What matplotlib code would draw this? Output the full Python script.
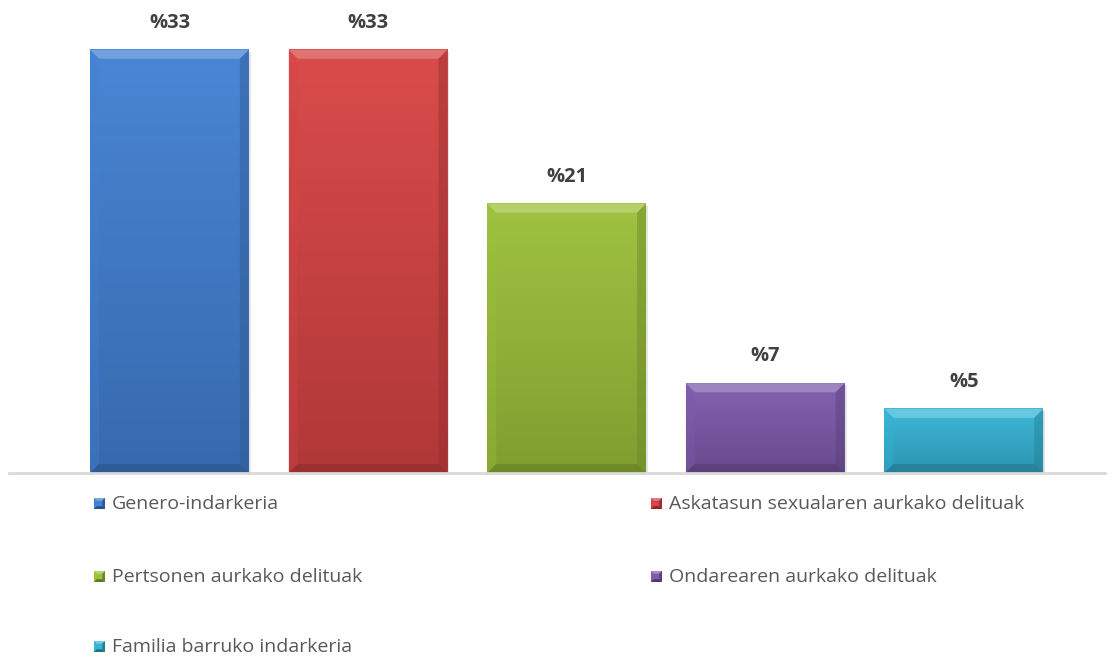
import matplotlib
matplotlib.use("Agg")
import matplotlib.pyplot as plt
import numpy as np
from matplotlib.patches import Polygon, Rectangle
import matplotlib.colors as mcolors

categories = ["Genero-indarkeria", "Askatasun sexualaren aurkako delituak",
              "Pertsonen aurkako delituak", "Ondarearen aurkako delituak",
              "Familia barruko indarkeria"]
values = [33, 33, 21, 7, 5]
labels = ["%33", "%33", "%21", "%7", "%5"]
colors = ["#4281D3", "#D84444", "#9CC03A", "#7F5BAD", "#35B5D6"]

W, H = 1113, 657
fig = plt.figure(figsize=(W / 100, H / 100), dpi=100)
ax = fig.add_axes([9 / W, 184 / H, 1096 / W, 463 / H])
ax.set_xlim(-0.808, 4.711)
ax.set_ylim(0, 36.1)
ax.axis("off")

bw = 0.8
px_x = (4.711 + 0.808) / 1096.0
px_y = 36.1 / 463.0
bx = 9 * px_x
by = 9 * px_y


def shade(c, f):
    r = np.array(mcolors.to_rgb(c))
    if f > 0:
        return tuple(r + (1 - r) * f)
    return tuple(r * (1 + f))


for i, (v, c) in enumerate(zip(values, colors)):
    x0, x1 = i - bw / 2, i + bw / 2
    # shadow
    ax.add_patch(Rectangle((x0 + 2 * px_x, -2 * px_y), bw, v, color="#000000",
                           alpha=0.10, lw=0, zorder=1))
    # gradient body
    grad = np.linspace(0, 1, 100)[:, None]
    top = np.array(shade(c, 0.04))
    bot = np.array(shade(c, -0.18))
    img = top[None, None, :] * (1 - grad[..., None]) + bot[None, None, :] * grad[..., None]
    ax.imshow(img, extent=(x0, x1, 0, v), origin="upper", aspect="auto", zorder=2)
    # bevels
    ax.add_patch(Polygon([(x0, v), (x1, v), (x1 - bx, v - by), (x0 + bx, v - by)],
                         closed=True, color=shade(c, 0.25), lw=0, zorder=3))
    ax.add_patch(Polygon([(x0, v), (x0 + bx, v - by), (x0 + bx, by), (x0, 0)],
                         closed=True, color=shade(c, 0.0), lw=0, zorder=3, alpha=0.35))
    ax.add_patch(Polygon([(x1, v), (x1 - bx, v - by), (x1 - bx, by), (x1, 0)],
                         closed=True, color=shade(c, -0.3), lw=0, zorder=3, alpha=0.45))
    ax.add_patch(Polygon([(x0, 0), (x0 + bx, by), (x1 - bx, by), (x1, 0)],
                         closed=True, color=shade(c, -0.35), lw=0, zorder=3, alpha=0.6))
    ax.text(i, v + 2.1, labels[i], ha="center", va="center", fontsize=14.5,
            fontweight="bold", color="#404040", family="Open Sans")

ax.plot([-0.808, 4.711], [0, 0], color="#D9D9D9", lw=2, zorder=5, clip_on=False)

# legend (x of marker left, text baseline y)
leg_pos = [(94, 509), (651, 509), (94, 582), (651, 582), (94, 652)]
sq = 11
for (lx, ly), name, c in zip(leg_pos, categories, colors):
    lax = fig.add_axes([lx / W, (H - ly) / H, sq / W, sq / H])
    lax.set_xlim(0, 1)
    lax.set_ylim(0, 1)
    lax.axis("off")
    lax.add_patch(Rectangle((0, 0), 1, 1, color=c, lw=0))
    lax.add_patch(Polygon([(0, 1), (1, 1), (0.75, 0.75), (0.25, 0.75)], color=shade(c, 0.3), lw=0))
    lax.add_patch(Polygon([(1, 1), (1, 0), (0.75, 0.25), (0.75, 0.75)], color=shade(c, -0.3), lw=0))
    lax.add_patch(Polygon([(0, 0), (1, 0), (0.75, 0.25), (0.25, 0.25)], color=shade(c, -0.38), lw=0))
    fig.text((lx + 18) / W, (H - ly) / H, name, ha="left", va="baseline",
             fontsize=14, color="#595959", family="Open Sans")

fig.savefig("out.png", dpi=100)
